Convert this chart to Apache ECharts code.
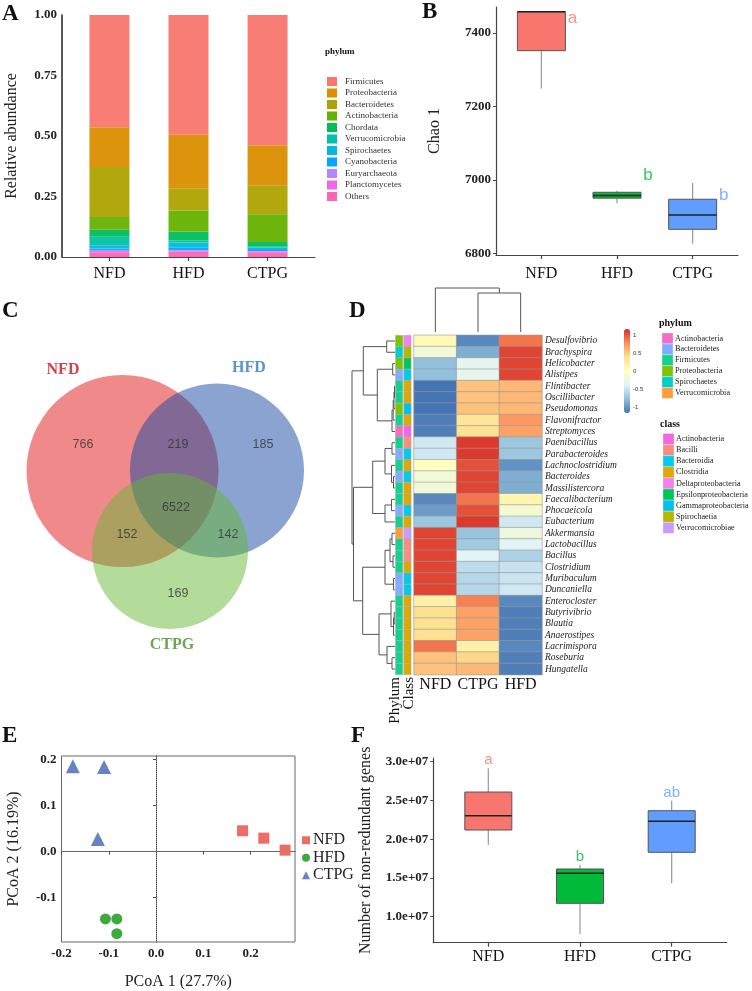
<!DOCTYPE html>
<html><head><meta charset="utf-8">
<script src="https://cdn.jsdelivr.net/npm/echarts@6/dist/echarts.min.js"></script>
<style>html,body{margin:0;padding:0;background:#fff}#c{width:752px;height:991px}</style>
</head><body><div id="c"></div>
<script>
const SERIF = "'Liberation Serif','Times New Roman',serif";
const SANS = "'Liberation Sans',Arial,sans-serif";

// ---------- DATA ----------
const groups = ['NFD', 'HFD', 'CTPG'];
// Panel A
const phyla = ['Firmicutes','Proteobacteria','Bacteroidetes','Actinobacteria','Chordata','Verrucomicrobia','Spirochaetes','Cyanobacteria','Euryarchaeota','Planctomycetes','Others'];
const abundNFD  = [0.464,0.164,0.207,0.052,0.029,0.037,0.012,0.007,0.003,0.005,0.020];
const abundHFD  = [0.495,0.221,0.092,0.087,0.037,0.008,0.022,0.010,0.002,0.004,0.022];
const abundCTPG = [0.538,0.165,0.120,0.115,0.020,0.003,0.006,0.008,0.001,0.004,0.020];
const abundTicks = [0, 0.25, 0.5, 0.75, 1];
// Panel B  [min, Q1, median, Q3, max]
const chaoNFD  = [7249, 7352, 7458, 7458, 7458];
const chaoHFD  = [6936, 6950, 6957, 6966, 6970];
const chaoCTPG = [6826, 6865, 6904, 6947, 6991];
const chaoLetters = ['a', 'b', 'b'];
const chaoTicks = [6800, 7000, 7200, 7400];
// Panel C
const vennSets = ['NFD', 'HFD', 'CTPG'];
const vennRegions = ['NFD', 'NFD&HFD', 'HFD', 'NFD&CTPG', 'NFD&HFD&CTPG', 'HFD&CTPG', 'CTPG'];
const vennCounts = [766, 219, 185, 152, 6522, 142, 169];
// Panel D
const genera = ['Desulfovibrio','Brachyspira','Helicobacter','Alistipes','Flintibacter','Oscillibacter','Pseudomonas','Flavonifractor','Streptomyces','Paenibacillus','Parabacteroides','Lachnoclostridium','Bacteroides','Massilistercora','Faecalibacterium','Phocaeicola','Eubacterium','Akkermansia','Lactobacillus','Bacillus','Clostridium','Muribaculum','Duncaniella','Enterocloster','Butyrivibrio','Blautia','Anaerostipes','Lacrimispora','Roseburia','Hungatella'];
const heatCols = ['NFD', 'CTPG', 'HFD'];
const annotCols = ['Phylum', 'Class'];
const zNFD  = [0.10,-0.15,-0.75,-0.75,-1.15,-1.15,-1.15,-1.10,-1.10,-0.45,-0.45,0.02,-0.15,-0.15,-1.05,-0.95,-0.70,1.10,1.10,1.10,1.10,1.10,1.10,0.20,0.40,0.40,0.40,0.90,0.55,0.55];
const zCTPG = [-1.05,-0.85,-0.30,-0.30,0.55,0.55,0.55,0.35,0.40,1.15,1.15,1.05,1.10,1.10,0.90,1.05,1.15,-0.72,-0.68,-0.35,-0.55,-0.58,-0.58,0.85,0.70,0.70,0.70,0.20,0.45,0.60];
const zHFD  = [0.90,1.10,1.10,1.10,0.60,0.60,0.60,0.75,0.70,-0.70,-0.70,-1.00,-0.85,-0.85,0.15,-0.10,-0.45,-0.20,-0.35,-0.62,-0.50,-0.48,-0.45,-1.05,-1.10,-1.10,-1.10,-1.05,-1.10,-1.10];
const phylumLevels = ['Actinobacteria','Bacteroidetes','Firmicutes','Proteobacteria','Spirochaetes','Verrucomicrobia'];
const classLevels = ['Actinobacteria','Bacilli','Bacteroidia','Clostridia','Deltaproteobacteria','Epsilonproteobacteria','Gammaproteobacteria','Spirochaetia','Verrucomicrobiae'];
const genusPhylum = [3,4,3,1,2,2,3,2,0,2,1,2,1,2,2,1,2,5,2,2,2,1,1,2,2,2,2,2,2,2];
const genusClass  = [4,7,5,2,3,3,6,3,0,1,2,3,2,3,3,2,3,8,1,1,3,2,2,3,3,3,3,3,3,3];
const heatTicks = [-1, -0.5, 0, 0.5, 1];
// row dendrogram merges: [childA, childB, height]; node ids start at genera.length
const rowMerges = [
  [0,1,8.3],[2,3,2.3],[4,5,0.5],[32,6,1.0],[33,7,1.8],[34,8,3.0],[31,35,17.7],[30,36,31.7],
  [9,10,3.0],[12,13,1.5],[11,39,3.5],[38,40,10],[14,15,3.5],[42,16,10],[41,43,22.3],
  [17,18,3.0],[19,20,2.0],[45,46,5.0],[21,22,1.5],[47,48,10],
  [24,25,0.8],[50,26,1.5],[23,51,4.0],[28,29,3.0],[27,53,8.0],[52,54,16],
  [49,55,32.3],[44,56,41.5],[37,57,43]
];
const colMerges = [[1,2,39],[0,3,44]];
// Panel E
const pcoaNFD  = [[0.183,0.045],[0.228,0.029],[0.273,0.003]];
const pcoaHFD  = [[-0.107,-0.146],[-0.083,-0.146],[-0.083,-0.178]];
const pcoaCTPG = [[-0.176,0.185],[-0.110,0.183],[-0.123,0.027]];
const pcoaXTicks = [-0.2,-0.1,0,0.1,0.2];
const pcoaYTicks = [-0.1,0,0.1,0.2];
// Panel F
const genesNFD  = [1.925e7, 2.119e7, 2.303e7, 2.609e7, 2.915e7];
const genesHFD  = [0.777e7, 1.173e7, 1.560e7, 1.616e7, 1.667e7];
const genesCTPG = [1.431e7, 1.831e7, 2.231e7, 2.368e7, 2.497e7];
const genesLetters = ['a', 'b', 'ab'];
const genesTicks = [1e7, 1.5e7, 2e7, 2.5e7, 3e7];

// ---------- STYLE / LAYOUT ----------
const phylumColors = ['#F8766D','#DB8E00','#AEA200','#64B200','#00BD5C','#00C1A7','#00BADE','#00A6FF','#B385FF','#EF67EB','#FF63B6'];
const groupColors = ['#F8766D', '#00BA38', '#619CFF'];
const pcoaColors = ['#EE6B66', '#3DAA3D', '#6682C2'];
const vennFill = ['rgba(225,21,21,0.5)', 'rgba(21,71,161,0.5)', 'rgba(103,183,53,0.5)'];
const vennNameColors = ['#D0101B', '#2F78C4', '#4A8B2C'];
const vennCircles = [[122.5,471,96],[217,470.5,87],[170,551,78]];
const vennLabelPos = [[83,445],[178,445],[263,445],[127,535],[176,508],[228,535],[178,594]];
const vennNamePos = [[63,370],[249,368],[172,645]];
const chaoLetterY = [7440, 7012, 6958];
const heatPalette = ['#4575B4','#91BFDB','#E0F3F8','#FFFFBF','#FEE090','#FC8D59','#D73027'];
const phylumLevelColors = ['#F26FC4','#7FAEFF','#14D18E','#7CC400','#00CEC9','#FF9D3D'];
const classLevelColors = ['#F665E6','#F98C7F','#00CBEB','#DDA800','#F47FEF','#00C65A','#00C0F0','#B5B800','#C99CFF'];
const annotLabelX = [395.5, 409];

const chart = echarts.init(document.getElementById('c'));

function boxRender(boxW, colors) {
  return function (params, api) {
    const x = api.value(0);
    const p = [1,2,3,4,5].map(i => api.coord([x, api.value(i)]));
    const cx = p[0][0], hw = boxW / 2;
    return { type: 'group', children: [
      { type: 'line', shape: { x1: cx, y1: p[4][1], x2: cx, y2: p[3][1] }, style: { stroke: '#999', lineWidth: 1.2 } },
      { type: 'line', shape: { x1: cx, y1: p[1][1], x2: cx, y2: p[0][1] }, style: { stroke: '#999', lineWidth: 1.2 } },
      { type: 'rect', shape: { x: cx - hw, y: p[3][1], width: boxW, height: Math.max(p[1][1] - p[3][1], 1) }, style: { fill: colors[params.dataIndex], stroke: '#555', lineWidth: 1 } },
      { type: 'line', shape: { x1: cx - hw, y1: p[2][1], x2: cx + hw, y2: p[2][1] }, style: { stroke: '#222', lineWidth: 1.5 } }
    ]};
  };
}

function dendroSegments(nLeaves, merges, horizontal) {
  const pos = [], hgt = [];
  for (let i = 0; i < nLeaves; i++) { pos.push(i); hgt.push(0); }
  const segs = [];
  merges.forEach(m => {
    const [a, b, h] = m;
    const pts = horizontal
      ? [[hgt[a], pos[a]], [h, pos[a]], [h, pos[b]], [hgt[b], pos[b]]]
      : [[pos[a], hgt[a]], [pos[a], h], [pos[b], h], [pos[b], hgt[b]]];
    segs.push({ coords: pts });
    pos.push((pos[a] + pos[b]) / 2); hgt.push(h);
  });
  return segs;
}

const catAxisX = (gi, fmt) => ({
  gridIndex: gi, type: 'value', min: 0.4, max: 3.6, splitLine: { show: false },
  axisLine: { lineStyle: { color: '#444', width: 1.2 } },
  axisTick: { customValues: [1,2,3], length: 4, lineStyle: { color: '#444', width: 1.2 } },
  axisLabel: { customValues: [1,2,3], formatter: v => groups[v - 1], fontFamily: SERIF, fontSize: 16, color: '#111', margin: fmt }
});

const series = [];
// A: stacked bars, drawn as custom rects from cumulative sums (Others at the bottom)
const abundSets = [abundNFD, abundHFD, abundCTPG];
const cumBase = [0, 0, 0];
for (let i = phyla.length - 1; i >= 0; i--) {
  const d = abundSets.map((arr, g) => { const v = [g + 1, cumBase[g], cumBase[g] + arr[i]]; cumBase[g] += arr[i]; return v; });
  series.push({ name: phyla[i], type: 'custom', xAxisIndex: 0, yAxisIndex: 0, silent: true,
    itemStyle: { color: phylumColors[i] },
    renderItem: (params, api) => {
      const a = api.coord([api.value(0), api.value(1)]);
      const b = api.coord([api.value(0), api.value(2)]);
      return { type: 'rect', shape: { x: a[0] - 20, y: b[1], width: 40, height: a[1] - b[1] }, style: { fill: phylumColors[i], opacity: 0.95 } };
    },
    data: d });
}
// B
series.push({ name: 'chao', type: 'custom', xAxisIndex: 1, yAxisIndex: 1, silent: true,
  renderItem: boxRender(48, groupColors),
  data: [[1, ...chaoNFD], [2, ...chaoHFD], [3, ...chaoCTPG]] });
series.push({ name: 'chaoLetters', type: 'scatter', xAxisIndex: 1, yAxisIndex: 1, symbolSize: 1, silent: true,
  itemStyle: { color: 'transparent' },
  data: chaoLetters.map((t, i) => ({ value: [i + 1.41, chaoLetterY[i]], label: { color: groupColors[i] } })),
  label: { show: true, position: 'inside', fontFamily: SANS, fontSize: 17, formatter: p => chaoLetters[p.dataIndex] } });
// C: venn
series.push({ name: 'venn', type: 'custom', xAxisIndex: 2, yAxisIndex: 2, silent: true,
  renderItem: (params, api) => {
    const c = api.coord([api.value(0), api.value(1)]);
    const r = api.size([api.value(2), 0])[0];
    return { type: 'circle', shape: { cx: c[0], cy: c[1], r: r }, style: { fill: vennFill[params.dataIndex] } };
  },
  data: vennCircles });
series.push({ name: 'vennCounts', type: 'scatter', xAxisIndex: 2, yAxisIndex: 2, symbolSize: 1, silent: true,
  itemStyle: { color: 'transparent' }, data: vennLabelPos,
  label: { show: true, position: 'inside', fontFamily: SANS, fontSize: 12.5, color: '#333', formatter: p => String(vennCounts[p.dataIndex]) } });
series.push({ name: 'vennNames', type: 'scatter', xAxisIndex: 2, yAxisIndex: 2, symbolSize: 1, silent: true,
  itemStyle: { color: 'transparent' },
  data: vennNamePos.map((p, i) => ({ value: p, label: { color: vennNameColors[i] } })),
  label: { show: true, position: 'inside', fontFamily: SERIF, fontWeight: 'bold', fontSize: 16, formatter: p => vennSets[p.dataIndex] } });
// D: heatmap
const heatData = [];
genera.forEach((g, r) => { heatData.push([0, r, zNFD[r]], [1, r, zCTPG[r]], [2, r, zHFD[r]]); });
const heatIdx = series.length;
series.push({ name: 'heat', type: 'heatmap', xAxisIndex: 3, yAxisIndex: 3, data: heatData, silent: true,
  itemStyle: { borderColor: '#999', borderWidth: 0.6 }, emphasis: { disabled: true } });
series.push({ name: 'rowDendro', type: 'lines', coordinateSystem: 'cartesian2d', xAxisIndex: 4, yAxisIndex: 4, polyline: true, silent: true,
  lineStyle: { color: '#555', width: 1, opacity: 1 }, data: dendroSegments(genera.length, rowMerges, true) });
series.push({ name: 'colDendro', type: 'lines', coordinateSystem: 'cartesian2d', xAxisIndex: 5, yAxisIndex: 5, polyline: true, silent: true,
  lineStyle: { color: '#555', width: 1, opacity: 1 }, data: dendroSegments(heatCols.length, colMerges, false) });
const annData = [];
genera.forEach((g, r) => { annData.push([0, r, genusPhylum[r]], [1, r, genusClass[r]]); });
series.push({ name: 'annot', type: 'custom', xAxisIndex: 6, yAxisIndex: 6, silent: true,
  renderItem: (params, api) => {
    const c = api.coord([api.value(0), api.value(1)]);
    const h = api.size([0, 1])[1];
    const col = api.value(0) === 0 ? phylumLevelColors[api.value(2)] : classLevelColors[api.value(2)];
    return { type: 'rect', shape: { x: c[0] - 3.65, y: c[1] - h / 2, width: 7.3, height: h }, style: { fill: col, stroke: '#aaa', lineWidth: 0.5 } };
  },
  data: annData });
// E
const pcoaSets = [pcoaNFD, pcoaHFD, pcoaCTPG];
const pcoaSymbols = ['rect', 'circle', 'triangle'];
const pcoaSizes = [11, 11, 14];
pcoaSets.forEach((d, i) => {
  const s = { name: groups[i], type: 'scatter', xAxisIndex: 8, yAxisIndex: 8, data: d, symbol: pcoaSymbols[i], symbolSize: pcoaSizes[i],
    itemStyle: { color: pcoaColors[i], opacity: 1 }, silent: true, z: 3 };
  if (i === 0) s.markLine = { silent: true, symbol: 'none', label: { show: false }, animation: false,
    lineStyle: { type: 'dotted', color: '#888', width: 1 }, data: [{ xAxis: 0 }, { yAxis: 0 }] };
  series.push(s);
});
// F
series.push({ name: 'genes', type: 'custom', xAxisIndex: 9, yAxisIndex: 9, silent: true,
  renderItem: boxRender(47, groupColors),
  data: [[1, ...genesNFD], [2, ...genesHFD], [3, ...genesCTPG]] });
const genesMax = [genesNFD[4], genesHFD[4], genesCTPG[4]];
series.push({ name: 'genesLetters', type: 'scatter', xAxisIndex: 9, yAxisIndex: 9, symbolSize: 1, silent: true,
  itemStyle: { color: 'transparent' },
  data: genesLetters.map((t, i) => ({ value: [i + 1, genesMax[i]], label: { color: groupColors[i] } })),
  label: { show: true, position: 'top', distance: 0, fontFamily: SANS, fontSize: 15, formatter: p => genesLetters[p.dataIndex] } });

// D legends (graphic)
const legendGraphics = [];
function addLegend(title, levels, colors, x, titleY, startY, step) {
  legendGraphics.push({ type: 'text', left: x - 3, top: titleY, style: { text: title, font: 'bold 10px ' + SERIF, fill: '#111' } });
  levels.forEach((lv, i) => {
    legendGraphics.push({ type: 'rect', shape: { x: x, y: startY + i * step, width: 11, height: step }, style: { fill: colors[i], stroke: '#fff', lineWidth: 0.3 } });
    legendGraphics.push({ type: 'text', x: x + 13, y: startY + i * step + step / 2, style: { text: lv, font: '8.2px ' + SERIF, fill: '#222', textVerticalAlign: 'middle' } });
  });
}
addLegend('phylum', phylumLevels, phylumLevelColors, 662, 318, 333, 10.9);
addLegend('class', classLevels, classLevelColors, 663, 419, 433.5, 11.1);
// rotated annotation column names
annotCols.forEach((t, i) => legendGraphics.push({ type: 'text', x: annotLabelX[i], y: 677, rotation: Math.PI / 2,
  style: { text: t, font: '15px ' + SERIF, fill: '#111', align: 'right', verticalAlign: 'middle' } }));

const panelLetters = [['A', 2, 3], ['B', 422, 1], ['C', 2, 300], ['D', 349, 300], ['E', 2, 725], ['F', 351, 725]];

const option = {
  animation: false,
  grid: [
    { left: 62, top: 15, width: 253, height: 242 },
    { left: 496, top: 7, width: 242, height: 248 },
    { left: 0, top: 290, width: 380, height: 370 },
    { left: 414, top: 335.3, width: 128, height: 339.4 },
    { left: 350, top: 335.3, width: 45, height: 339.4 },
    { left: 414, top: 285, width: 128, height: 47 },
    { left: 395, top: 335.3, width: 16.6, height: 339.4 },
    { left: 624, top: 329, width: 6, height: 84 },
    { left: 61.5, top: 756, width: 233.5, height: 186.7, show: true, borderColor: '#666', borderWidth: 1 },
    { left: 433.3, top: 758, width: 293.4, height: 184.7 }
  ],
  xAxis: [
    catAxisX(0, 9),
    catAxisX(1, 11),
    { gridIndex: 2, type: 'value', min: 0, max: 380, show: false },
    { gridIndex: 3, type: 'category', data: heatCols, axisLine: { show: false }, axisTick: { show: false },
      axisLabel: { interval: 0, fontFamily: SERIF, fontSize: 16, color: '#111', margin: 2 } },
    { gridIndex: 4, type: 'value', min: 0, max: 45, inverse: true, show: false },
    { gridIndex: 5, type: 'value', min: -0.5, max: 2.5, show: false },
    { gridIndex: 6, type: 'category', data: annotCols, show: false },
    { gridIndex: 7, type: 'value', show: false },
    { gridIndex: 8, type: 'value', min: -0.2, max: 0.294, splitLine: { show: false },
      axisLine: { lineStyle: { color: '#444' } },
      axisTick: { customValues: pcoaXTicks, length: 3, lineStyle: { color: '#444' } },
      axisLabel: { customValues: pcoaXTicks, formatter: v => v.toFixed(1), fontFamily: SERIF, fontWeight: 'bold', fontSize: 13, color: '#222', margin: 5 },
      name: 'PCoA 1 (27.7%)', nameLocation: 'middle', nameGap: 32, nameTextStyle: { fontFamily: SERIF, fontSize: 16, color: '#222' } },
    catAxisX(9, 6)
  ],
  yAxis: [
    { gridIndex: 0, type: 'value', min: 0, max: 1, splitLine: { show: false },
      axisLine: { show: true, lineStyle: { color: '#222', width: 1.5 } }, axisTick: { show: false },
      axisLabel: { customValues: abundTicks, formatter: v => v.toFixed(2), fontFamily: SERIF, fontWeight: 'bold', fontSize: 13, color: '#222', margin: 5 },
      name: 'Relative abundance', nameLocation: 'middle', nameGap: 42, nameTextStyle: { fontFamily: SERIF, fontSize: 16, color: '#222' } },
    { gridIndex: 1, type: 'value', min: 6795, max: 7471, splitLine: { show: false },
      axisLine: { show: true, lineStyle: { color: '#444', width: 1.2 } },
      axisTick: { show: true, customValues: chaoTicks, length: 3, lineStyle: { color: '#444' } },
      axisLabel: { customValues: chaoTicks, formatter: v => String(v), fontFamily: SERIF, fontWeight: 'bold', fontSize: 13, color: '#222', margin: 5 },
      name: 'Chao 1', nameLocation: 'middle', nameGap: 53, nameTextStyle: { fontFamily: SERIF, fontSize: 16, color: '#222' } },
    { gridIndex: 2, type: 'value', min: 290, max: 660, inverse: true, show: false },
    { gridIndex: 3, type: 'category', data: genera, inverse: true, position: 'right', axisLine: { show: false }, axisTick: { show: false },
      axisLabel: { interval: 0, fontFamily: SERIF, fontStyle: 'italic', fontSize: 9.5, color: '#222', margin: 3 } },
    { gridIndex: 4, type: 'value', min: -0.5, max: 29.5, inverse: true, show: false },
    { gridIndex: 5, type: 'value', min: 0, max: 47, show: false },
    { gridIndex: 6, type: 'category', data: genera, inverse: true, show: false },
    { gridIndex: 7, type: 'value', min: -1.15, max: 1.19, position: 'right', splitLine: { show: false },
      axisLine: { show: false }, axisTick: { show: false },
      axisLabel: { customValues: heatTicks, formatter: v => String(v), fontFamily: SANS, fontSize: 6, color: '#333', margin: 3 } },
    { gridIndex: 8, type: 'value', min: -0.196, max: 0.207, splitLine: { show: false },
      axisLine: { lineStyle: { color: '#444' } },
      axisTick: { customValues: pcoaYTicks, length: 3, lineStyle: { color: '#444' } },
      axisLabel: { customValues: pcoaYTicks, formatter: v => v.toFixed(1), fontFamily: SERIF, fontWeight: 'bold', fontSize: 13, color: '#222', margin: 5 },
      name: 'PCoA 2 (16.19%)', nameLocation: 'middle', nameGap: 40, nameTextStyle: { fontFamily: SERIF, fontSize: 16, color: '#222' } },
    { gridIndex: 9, type: 'value', min: 0.665e7, max: 3.048e7, splitLine: { show: false },
      axisLine: { show: true, lineStyle: { color: '#444', width: 1.2 } },
      axisTick: { show: true, customValues: genesTicks, length: 3, lineStyle: { color: '#444' } },
      axisLabel: { customValues: genesTicks, formatter: v => (v / 1e7).toFixed(1) + 'e+07', fontFamily: SERIF, fontWeight: 'bold', fontSize: 13, color: '#222', margin: 5 },
      name: 'Number of non-redundant genes', nameLocation: 'middle', nameGap: 60, nameTextStyle: { fontFamily: SERIF, fontSize: 16, color: '#222' } }
  ],
  visualMap: [{ type: 'continuous', seriesIndex: heatIdx, min: -1.15, max: 1.19, inRange: { color: heatPalette },
    calculable: false, orient: 'vertical', left: 624, top: 329, itemWidth: 6, itemHeight: 84, padding: 0, show: true }],
  legend: [
    { data: phyla, orient: 'vertical', left: 327, top: 77, icon: 'rect', itemWidth: 10, itemHeight: 9, itemGap: 2.5, padding: 0,
      selectedMode: false, textStyle: { fontFamily: SERIF, fontSize: 9, color: '#333', lineHeight: 9, padding: [0, 0, 0, 3] } },
    { data: groups, orient: 'vertical', left: 302, top: 832, itemWidth: 8, itemHeight: 8, itemGap: 1, padding: 0,
      selectedMode: false, textStyle: { fontFamily: SERIF, fontSize: 16, color: '#222', lineHeight: 16.5, padding: [0, 0, 0, -2] } }
  ],
  graphic: [
    { type: 'text', left: 325, top: 47, style: { text: 'phylum', font: 'bold 9px ' + SERIF, fill: '#111' } },
    ...panelLetters.map(l => ({ type: 'text', left: l[1], top: l[2], style: { text: l[0], font: 'bold 23px ' + SERIF, fill: '#111' } })),
    ...legendGraphics
  ],
  series: series
};
chart.setOption(option);
</script></body></html>
